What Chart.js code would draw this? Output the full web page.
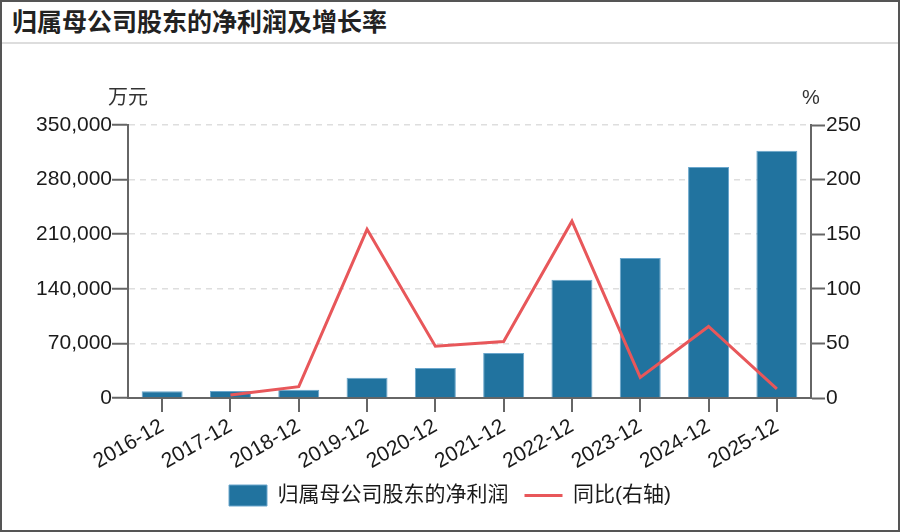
<!DOCTYPE html>
<html>
<head>
<meta charset="utf-8">
<script src="https://cdn.jsdelivr.net/npm/chart.js@4"></script>
<style>
  body { margin: 0; background: #fff; }
  #frame {
    position: relative; width: 900px; height: 532px; box-sizing: border-box;
    border: 2px solid #555; background: #fff; overflow: hidden;
  }
  #title {
    position: absolute; left: 10px; top: 0; height: 40px; line-height: 40px;
    font: 700 25px "Noto Sans CJK SC", sans-serif; color: #222;
  }
  #sep { position: absolute; left: 0; right: 0; top: 40px; height: 2px; background: #ddd; }
  #wrap { position: absolute; left: 0; top: 46px; width: 896px; height: 482px; }
</style>
</head>
<body>
<div id="frame">
  <div id="title">归属母公司股东的净利润及增长率</div>
  <div id="sep"></div>
  <div id="wrap"><canvas id="chart"></canvas></div>
</div>
<script>
  // ---------- data ----------
  const categories = ['2016-12', '2017-12', '2018-12', '2019-12', '2020-12', '2021-12', '2022-12', '2023-12', '2024-12', '2025-12'];
  const netProfit = [8500, 9000, 10700, 26100, 38600, 57800, 151700, 179500, 296000, 317000]; // 万元
  const growthPct = [null, 2.8, 10.4, 154.5, 47.4, 51.7, 161.9, 18.9, 65.5, 8.3];             // %
  const leftTicks = [0, 70000, 140000, 210000, 280000, 350000];
  const rightTicks = [0, 50, 100, 150, 200, 250];

  const FONT = '"Liberation Sans", "Noto Sans CJK SC", sans-serif';
  const AXIS = '#666';
  const INK = '#1a1a1a';

  // unit labels above the two y axes
  const unitLabels = {
    id: 'unitLabels',
    afterDraw(chart) {
      let { ctx, chartArea, scales } = chart;
      ctx.save();
      ctx.font = '20px ' + FONT;
      ctx.fillStyle = '#333';
      ctx.textAlign = 'center';
      ctx.textBaseline = 'middle';
      ctx.fillText('万元', scales.y.right, chartArea.top - 27);
      ctx.fillText('%', scales.y1.left, chartArea.top - 27);
      ctx.restore();
    }
  };

  new Chart(document.getElementById('chart').getContext('2d'), {
    type: 'bar',
    data: {
      labels: categories,
      datasets: [{
        label: '归属母公司股东的净利润',
        data: netProfit,
        yAxisID: 'y',
        backgroundColor: '#21739f',
        borderColor: '#6aa6cc',
        borderWidth: 1,
        barPercentage: 0.6,
        categoryPercentage: 1,
        pointStyle: 'rect',
        order: 2
      }, {
        type: 'line',
        label: '同比(右轴)',
        data: growthPct,
        yAxisID: 'y1',
        borderColor: '#e8575a',
        backgroundColor: '#e8575a',
        borderWidth: 3,
        pointRadius: 0,
        tension: 0,
        pointStyle: 'line',
        order: 1
      }]
    },
    options: {
      responsive: true,
      maintainAspectRatio: false,
      animation: false,
      layout: { padding: { top: 77, bottom: 14, left: 0, right: 0 } },
      plugins: {
        title: { display: false },
        tooltip: { enabled: false },
        legend: {
          position: 'bottom',
          labels: {
            usePointStyle: true,
            pointStyleWidth: 38,
            boxHeight: 21,
            padding: 16,
            color: INK,
            font: { family: FONT, size: 21 },
            sort: (a, b) => a.datasetIndex - b.datasetIndex
          }
        }
      },
      scales: {
        x: {
          grid: { display: true, drawOnChartArea: false, offset: false, tickLength: 14, color: AXIS, lineWidth: 2 },
          border: { color: AXIS, width: 2 },
          ticks: { color: INK, font: { family: FONT, size: 21 }, minRotation: 30, maxRotation: 30, padding: 2 },
          afterFit: s => { s.height = 71; }
        },
        y: {
          position: 'left',
          min: 0,
          max: 350000,
          afterBuildTicks: s => { s.ticks = leftTicks.map(v => ({ value: v })); },
          grid: {
            color: '#dedede', lineWidth: 1.5,
            tickColor: AXIS, tickWidth: 2, tickBorderDash: [], tickLength: 16
          },
          border: { color: AXIS, width: 2, dash: [6, 5] },
          ticks: {
            color: INK, font: { family: FONT, size: 21 }, padding: 0,
            callback: v => v.toLocaleString('en-US')
          },
          afterFit: s => { s.width = 126; }
        },
        y1: {
          position: 'right',
          min: 0,
          max: 250,
          afterBuildTicks: s => { s.ticks = rightTicks.map(v => ({ value: v })); },
          grid: { drawOnChartArea: false, tickColor: AXIS, tickWidth: 2, tickLength: 14 },
          border: { color: AXIS, width: 2 },
          ticks: { color: INK, font: { family: FONT, size: 21 }, padding: 1 },
          afterFit: s => { s.width = 87; }
        }
      }
    },
    plugins: [unitLabels]
  });
</script>
</body>
</html>
